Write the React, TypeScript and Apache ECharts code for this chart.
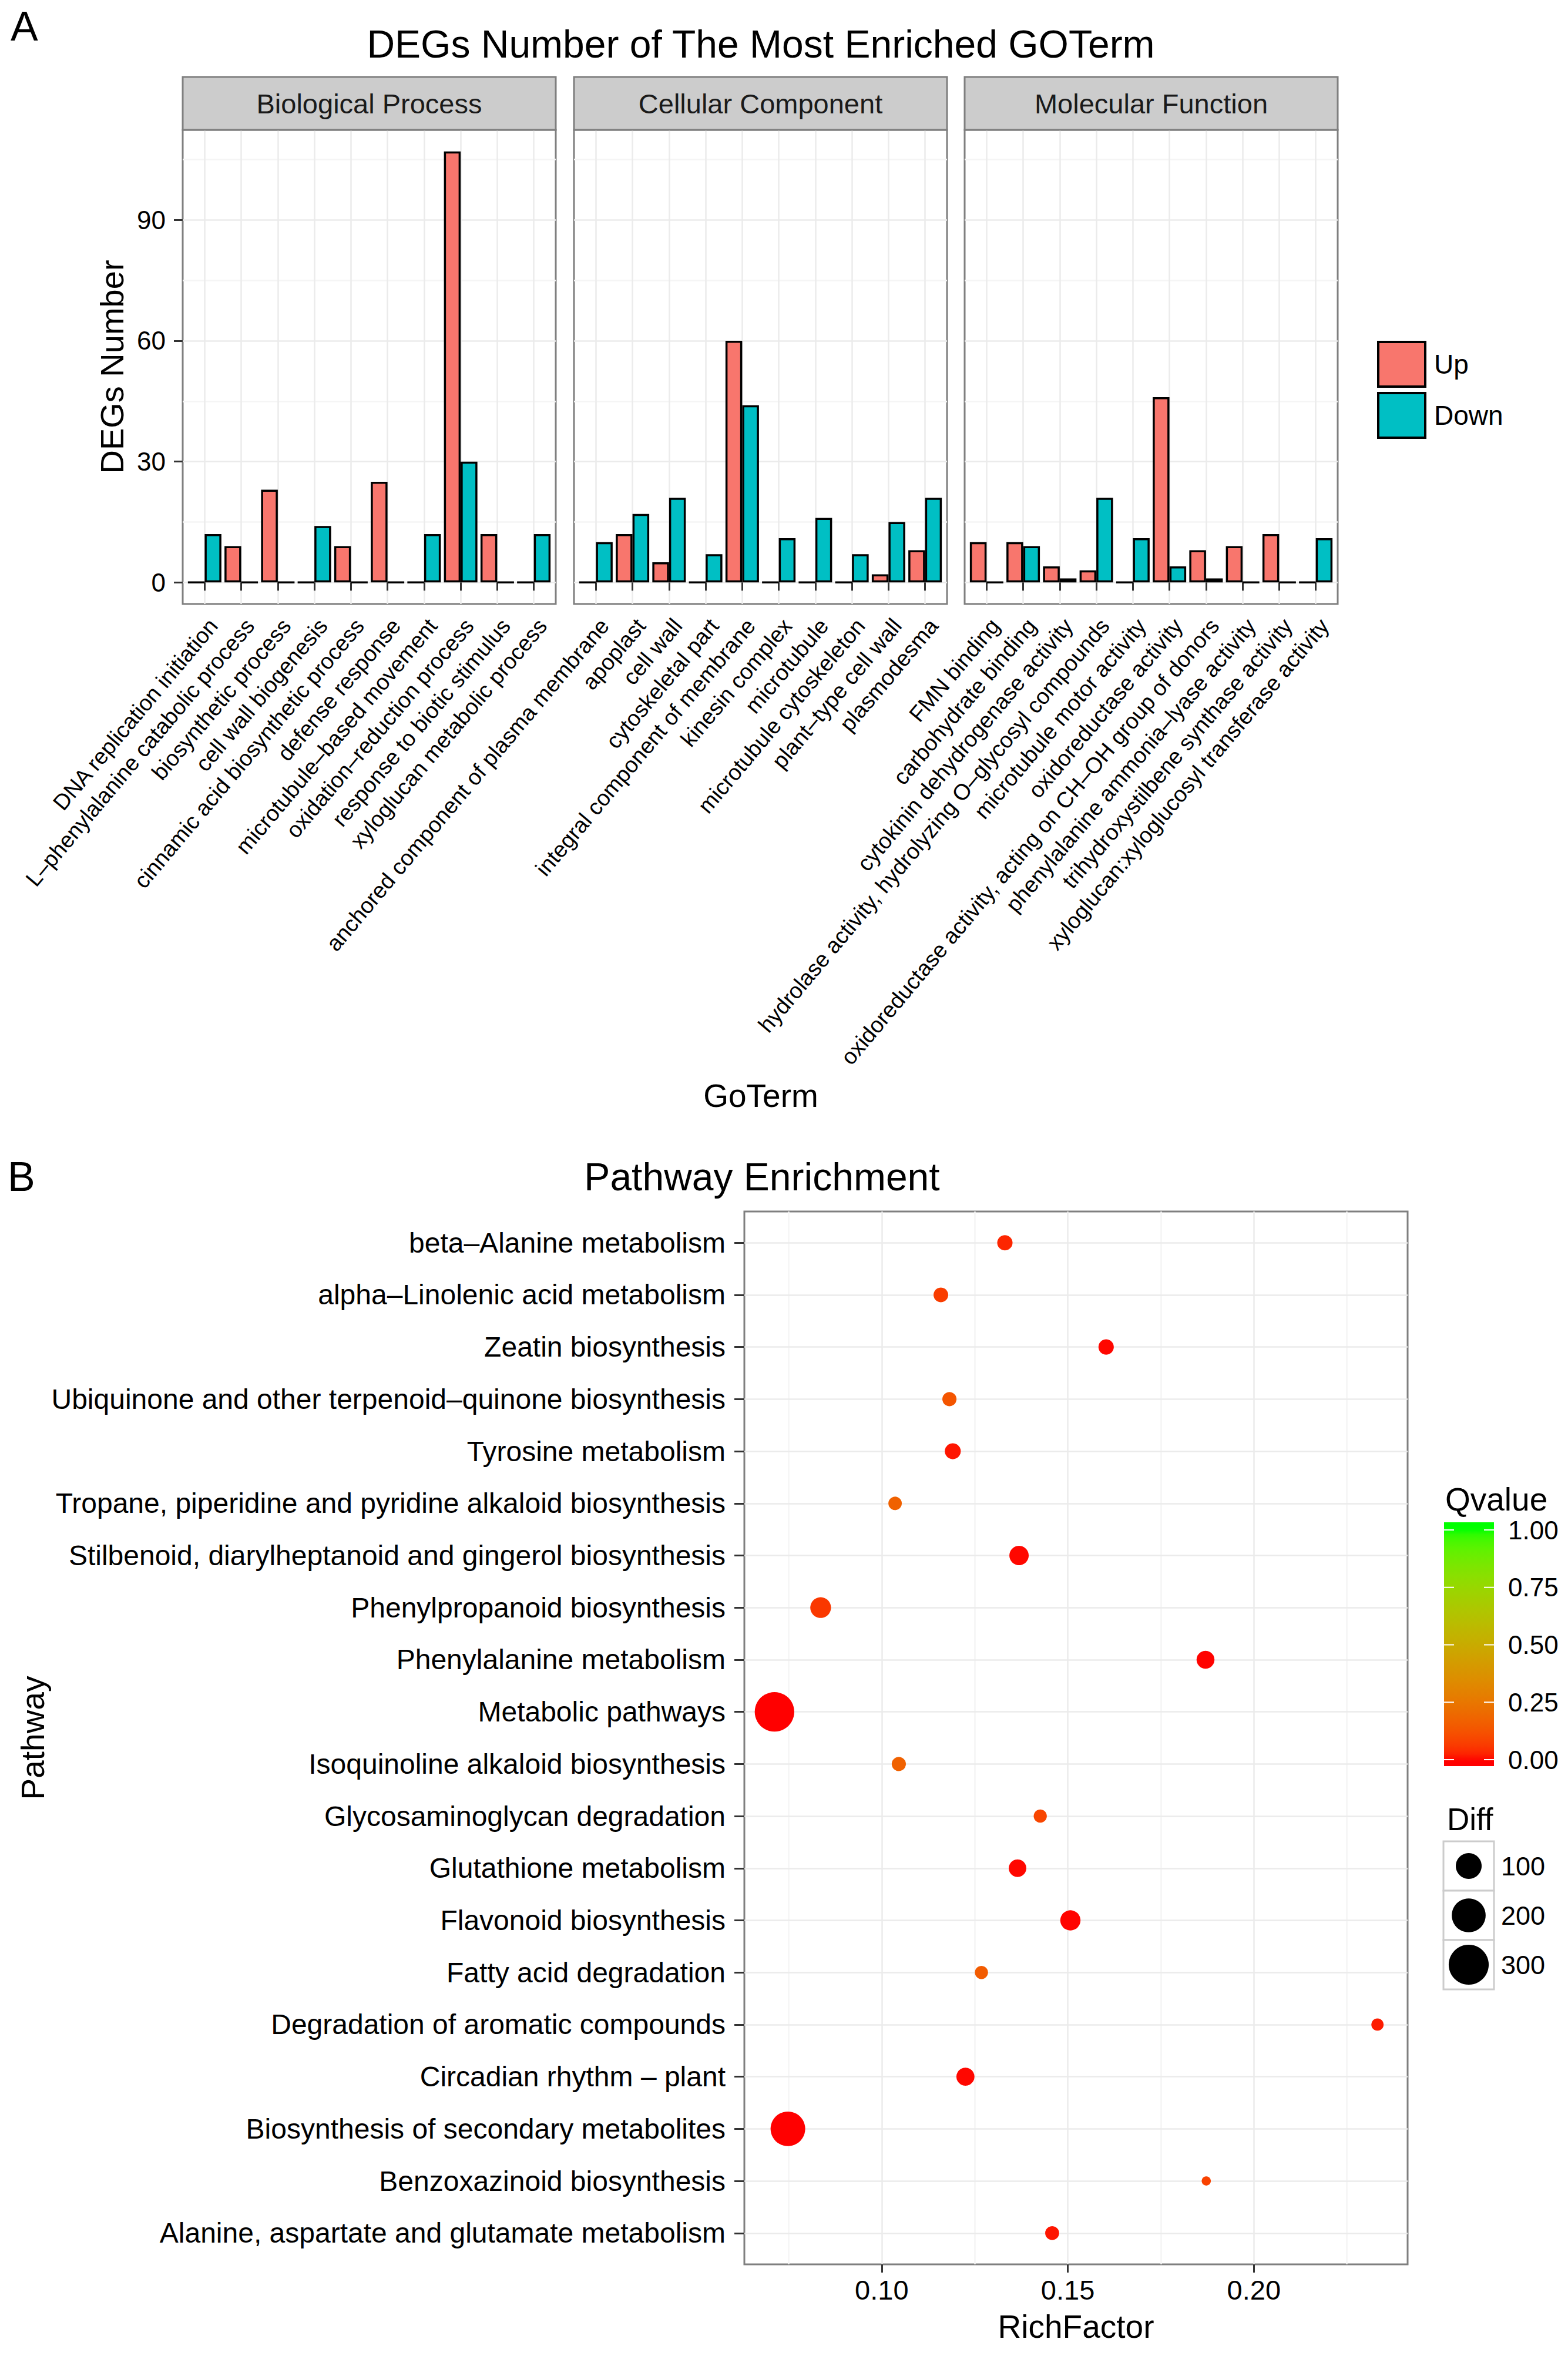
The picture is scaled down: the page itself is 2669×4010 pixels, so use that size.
import React, { useEffect, useRef } from "react";
import * as echarts from "echarts";

const FONT = "'Liberation Sans', Arial, Helvetica, sans-serif";
const UP_COLOR = "#F8766D";
const DOWN_COLOR = "#00BFC4";

// ---------- Panel A data ----------
const bpTerms = [
  "DNA replication initiation",
  "L–phenylalanine catabolic process",
  "biosynthetic process",
  "cell wall biogenesis",
  "cinnamic acid biosynthetic process",
  "defense response",
  "microtubule–based movement",
  "oxidation–reduction process",
  "response to biotic stimulus",
  "xyloglucan metabolic process",
];
const bpUp = [0, 9, 23, 0, 9, 25, 0, 107, 12, 0];
const bpDown = [12, 0, 0, 14, 0, 0, 12, 30, 0, 12];

const ccTerms = [
  "anchored component of plasma membrane",
  "apoplast",
  "cell wall",
  "cytoskeletal part",
  "integral component of membrane",
  "kinesin complex",
  "microtubule",
  "microtubule cytoskeleton",
  "plant–type cell wall",
  "plasmodesma",
];
const ccUp = [0, 12, 5, 0, 60, 0, 0, 0, 2, 8];
const ccDown = [10, 17, 21, 7, 44, 11, 16, 7, 15, 21];

const mfTerms = [
  "FMN binding",
  "carbohydrate binding",
  "cytokinin dehydrogenase activity",
  "hydrolase activity, hydrolyzing O–glycosyl compounds",
  "microtubule motor activity",
  "oxidoreductase activity",
  "oxidoreductase activity, acting on CH–OH group of donors",
  "phenylalanine ammonia–lyase activity",
  "trihydroxystilbene synthase activity",
  "xyloglucan:xyloglucosyl transferase activity",
];
const mfUp = [10, 10, 4, 3, 0, 46, 8, 9, 12, 0];
const mfDown = [0, 9, 1, 21, 11, 4, 1, 0, 0, 11];

const facetNames = ["Biological Process", "Cellular Component", "Molecular Function"];
const degTicks = [0, 30, 60, 90];
const degMinor = [15, 45, 75, 105];

// ---------- Panel B data (top to bottom) ----------
const pathways = [
  "beta–Alanine metabolism",
  "alpha–Linolenic acid metabolism",
  "Zeatin biosynthesis",
  "Ubiquinone and other terpenoid–quinone biosynthesis",
  "Tyrosine metabolism",
  "Tropane, piperidine and pyridine alkaloid biosynthesis",
  "Stilbenoid, diarylheptanoid and gingerol biosynthesis",
  "Phenylpropanoid biosynthesis",
  "Phenylalanine metabolism",
  "Metabolic pathways",
  "Isoquinoline alkaloid biosynthesis",
  "Glycosaminoglycan degradation",
  "Glutathione metabolism",
  "Flavonoid biosynthesis",
  "Fatty acid degradation",
  "Degradation of aromatic compounds",
  "Circadian rhythm – plant",
  "Biosynthesis of secondary metabolites",
  "Benzoxazinoid biosynthesis",
  "Alanine, aspartate and glutamate metabolism",
];
const richFactor = [
  0.1331, 0.1159, 0.1603, 0.1182, 0.1191, 0.1036, 0.1369, 0.0836, 0.187, 0.0712,
  0.1046, 0.1426, 0.1365, 0.1507, 0.1268, 0.2332, 0.1225, 0.0748, 0.1872, 0.1458,
];
const diffCount = [21, 18, 21, 16, 24, 13, 44, 54, 35, 291, 16, 12, 33, 50, 12, 9, 36, 211, 2, 15];
const qValue = [
  0.03, 0.07, 0.005, 0.13, 0.015, 0.17, 0.005, 0.06, 0.002, 0.0,
  0.17, 0.09, 0.005, 0.003, 0.15, 0.02, 0.005, 0.0, 0.08, 0.015,
];
const richTicks = [0.1, 0.15, 0.2];
const richMinor = [0.075, 0.125, 0.175, 0.225];
const qBreaks = [0, 0.25, 0.5, 0.75, 1];
const diffBreaks = [100, 200, 300];

// ---------- colour scale (Lab interpolation red -> green) ----------
function toLin(c: number) {
  c /= 255;
  return c <= 0.04045 ? c / 12.92 : Math.pow((c + 0.055) / 1.055, 2.4);
}
function hexToLab(hex: string) {
  const r = toLin(parseInt(hex.slice(1, 3), 16));
  const g = toLin(parseInt(hex.slice(3, 5), 16));
  const b = toLin(parseInt(hex.slice(5, 7), 16));
  const X = (0.4124564 * r + 0.3575761 * g + 0.1804375 * b) / 0.95047;
  const Y = 0.2126729 * r + 0.7151522 * g + 0.072175 * b;
  const Z = (0.0193339 * r + 0.119192 * g + 0.9503041 * b) / 1.08883;
  const f = (t: number) => (t > 0.008856 ? Math.cbrt(t) : 7.787 * t + 16 / 116);
  const fx = f(X), fy = f(Y), fz = f(Z);
  return [116 * fy - 16, 500 * (fx - fy), 200 * (fy - fz)];
}
function labToHex(L: number, a: number, bb: number) {
  const fy = (L + 16) / 116;
  const fx = fy + a / 500;
  const fz = fy - bb / 200;
  const inv = (t: number) => (t * t * t > 0.008856 ? t * t * t : (t - 16 / 116) / 7.787);
  const X = 0.95047 * inv(fx), Y = inv(fy), Z = 1.08883 * inv(fz);
  const lin = [
    3.2404542 * X - 1.5371385 * Y - 0.4985314 * Z,
    -0.969266 * X + 1.8760108 * Y + 0.041556 * Z,
    0.0556434 * X - 0.2040259 * Y + 1.0572252 * Z,
  ];
  return (
    "#" +
    lin
      .map((c) => {
        c = Math.max(0, Math.min(1, c));
        const s = c <= 0.0031308 ? 12.92 * c : 1.055 * Math.pow(c, 1 / 2.4) - 0.055;
        return Math.round(Math.max(0, Math.min(1, s)) * 255).toString(16).padStart(2, "0");
      })
      .join("")
  );
}
const LOW_LAB = hexToLab("#FF0000");
const HIGH_LAB = hexToLab("#00FF00");
function qColor(t: number) {
  t = Math.max(0, Math.min(1, t));
  return labToHex(
    LOW_LAB[0] + (HIGH_LAB[0] - LOW_LAB[0]) * t,
    LOW_LAB[1] + (HIGH_LAB[1] - LOW_LAB[1]) * t,
    LOW_LAB[2] + (HIGH_LAB[2] - LOW_LAB[2]) * t
  );
}
const dotSize = (d: number) => 11 + 3.3 * Math.sqrt(d);

// ---------- layout ----------
const A = { lefts: [311, 977, 1642], width: 635, top: 221, height: 807, stripTop: 131 };
const B = { left: 1267, top: 2062, width: 1129, height: 1792 };

function buildOption() {
  const panels = [
    { terms: bpTerms, up: bpUp, down: bpDown },
    { terms: ccTerms, up: ccUp, down: ccDown },
    { terms: mfTerms, up: mfUp, down: mfDown },
  ];
  const maxCount = Math.max(...bpUp, ...bpDown, ...ccUp, ...ccDown, ...mfUp, ...mfDown);
  const yMinA = -0.05 * maxCount;
  const yMaxA = 1.05 * maxCount;
  const rMin = Math.min(...richFactor);
  const rMax = Math.max(...richFactor);
  const rLo = rMin - 0.05 * (rMax - rMin);
  const rHi = rMax + 0.05 * (rMax - rMin);
  const N = pathways.length;

  const grid: any[] = A.lefts.map((l) => ({
    left: l, top: A.top, width: A.width, height: A.height,
    show: true, borderColor: "#7F7F7F", borderWidth: 3, backgroundColor: "#FFFFFF",
  }));
  grid.push({
    left: B.left, top: B.top, width: B.width, height: B.height,
    show: true, borderColor: "#7F7F7F", borderWidth: 3, backgroundColor: "#FFFFFF",
  });

  const tickLine = { color: "#333333", width: 3 };
  const major = { color: "#EBEBEB", width: 2.5 };
  const minor = { color: "#F5F5F5", width: 2.5 };

  const xAxis: any[] = panels.map((p, i) => {
    const idx = p.terms.map((_, j) => j + 1);
    return {
      type: "value", gridIndex: i, min: 0.4, max: p.terms.length + 0.6, z: 1,
      axisLine: { show: false },
      axisTick: { show: true, customValues: idx, length: 14, lineStyle: tickLine },
      axisLabel: {
        show: true, customValues: idx,
        formatter: (v: number) => p.terms[Math.round(v) - 1] || "",
        rotate: 50, align: "right", verticalAlign: "top",
        fontSize: 38, margin: 18, color: "#000", fontFamily: FONT,
      },
      splitLine: { show: true, lineStyle: major },
    };
  });
  xAxis.push({
    type: "value", gridIndex: 3, min: rLo, max: rHi, z: 1,
    axisLine: { show: false },
    axisTick: { show: true, customValues: richTicks, length: 14, lineStyle: tickLine },
    axisLabel: {
      show: true, customValues: richTicks, formatter: (v: number) => v.toFixed(2),
      fontSize: 47, margin: 20, color: "#000", fontFamily: FONT,
    },
    splitLine: { show: true, lineStyle: major },
  });
  xAxis.push({
    type: "value", gridIndex: 3, min: rLo, max: rHi, z: 0, position: "bottom",
    axisLine: { show: false },
    axisTick: { show: false, customValues: richMinor },
    axisLabel: { show: false },
    splitLine: { show: true, lineStyle: minor },
  });

  const yAxis: any[] = panels.map((_, i) => ({
    type: "value", gridIndex: i, min: yMinA, max: yMaxA, z: 1,
    axisLine: { show: false },
    axisTick: { show: i === 0, customValues: degTicks, length: 15, lineStyle: tickLine },
    axisLabel: {
      show: i === 0, customValues: degTicks, fontSize: 44, margin: 29, color: "#000", fontFamily: FONT,
    },
    splitLine: { show: true, lineStyle: major },
  }));
  panels.forEach((_, i) => {
    yAxis.push({
      type: "value", gridIndex: i, min: yMinA, max: yMaxA, z: 0,
      axisLine: { show: false },
      axisTick: { show: false, customValues: degMinor },
      axisLabel: { show: false },
      splitLine: { show: true, lineStyle: minor },
    });
  });
  const yIdx = pathways.map((_, i) => i + 1);
  yAxis.push({
    type: "value", gridIndex: 3, min: 0.4, max: N + 0.6, z: 1,
    axisLine: { show: false },
    axisTick: { show: true, customValues: yIdx, length: 17, lineStyle: tickLine },
    axisLabel: {
      show: true, customValues: yIdx,
      formatter: (v: number) => pathways[N - Math.round(v)] || "",
      fontSize: 48, margin: 32, color: "#000", fontFamily: FONT,
    },
    splitLine: { show: true, lineStyle: major },
  });

  const series: any[] = [];
  panels.forEach((p, i) => {
    series.push({
      type: "bar", name: "Up", xAxisIndex: i, yAxisIndex: i,
      data: p.up.map((v, j) => [j + 1, v]),
      barWidth: 28.5, barGap: "0%", z: 2,
      itemStyle: { color: UP_COLOR, borderColor: "#000", borderWidth: 3.5 },
    });
    series.push({
      type: "bar", name: "Down", xAxisIndex: i, yAxisIndex: i,
      data: p.down.map((v, j) => [j + 1, v]),
      barWidth: 28.5, barGap: "0%", z: 2,
      itemStyle: { color: DOWN_COLOR, borderColor: "#000", borderWidth: 3.5 },
    });
  });
  series.push({
    type: "scatter", name: "Pathway", xAxisIndex: 3, yAxisIndex: 6, z: 3,
    data: pathways.map((_, i) => [richFactor[i], N - i, diffCount[i], qValue[i]]),
    symbolSize: (v: number[]) => dotSize(v[2]),
    itemStyle: { opacity: 1 },
  });

  const qStops: string[] = [];
  for (let k = 0; k <= 40; k++) qStops.push(qColor(k / 40));

  // ---------- graphics ----------
  const txt = (x: number, y: number, text: string, size: number, align = "left", rot = 0, color = "#000") => ({
    type: "text", x, y, rotation: rot, z: 10,
    style: {
      text, fontSize: size, fontFamily: FONT, fill: color,
      align, verticalAlign: "middle", textAlign: align, textVerticalAlign: "middle",
    },
  });
  const g: any[] = [];
  g.push(txt(18, 45, "A", 70));
  g.push(txt(1295, 75, "DEGs Number of The Most Enriched GOTerm", 66, "center"));
  A.lefts.forEach((l, i) => {
    g.push({
      type: "rect", z: 5,
      shape: { x: l, y: A.stripTop, width: A.width, height: A.top - A.stripTop },
      style: { fill: "#CCCCCC", stroke: "#7F7F7F", lineWidth: 3 },
    });
    g.push(txt(l + A.width / 2, (A.stripTop + A.top) / 2, facetNames[i], 47, "center", 0, "#1A1A1A"));
  });
  g.push(txt(190, A.top + A.height / 2, "DEGs Number", 56, "center", Math.PI / 2));
  g.push(txt(1295, 1865, "GoTerm", 55, "center"));

  g.push(txt(13, 2003, "B", 70));
  g.push(txt(1297, 2003, "Pathway Enrichment", 66, "center"));
  g.push(txt(56, B.top + B.height / 2, "Pathway", 55, "center", Math.PI / 2));
  g.push(txt(B.left + B.width / 2, 3960, "RichFactor", 55, "center"));

  // Qvalue colourbar
  const cb = { x: 2458, y: 2591, w: 85, h: 415, v0: 2995, v1: 2604 };
  const pxPerUnit = cb.v0 - cb.v1;
  const gradStops: any[] = [];
  for (let k = 0; k <= 60; k++) {
    const o = k / 60;
    const yy = cb.y + o * cb.h;
    gradStops.push({ offset: o, color: qColor((cb.v0 - yy) / pxPerUnit) });
  }
  g.push(txt(2460, 2552, "Qvalue", 55));
  g.push({
    type: "rect", z: 5,
    shape: { x: cb.x, y: cb.y, width: cb.w, height: cb.h },
    style: { fill: { type: "linear", x: 0, y: 0, x2: 0, y2: 1, colorStops: gradStops } },
  });
  qBreaks.forEach((q) => {
    const yy = cb.v0 - q * pxPerUnit;
    g.push({ type: "line", z: 6, shape: { x1: cb.x, y1: yy, x2: cb.x + 17, y2: yy }, style: { stroke: "#FFFFFF", lineWidth: 2 } });
    g.push({ type: "line", z: 6, shape: { x1: cb.x + cb.w - 17, y1: yy, x2: cb.x + cb.w, y2: yy }, style: { stroke: "#FFFFFF", lineWidth: 2 } });
    g.push(txt(2567, yy, q.toFixed(2), 44));
  });

  // Diff size legend
  g.push(txt(2463, 3096, "Diff", 53));
  diffBreaks.forEach((d, i) => {
    const top = 3134 + i * 84;
    g.push({
      type: "rect", z: 5,
      shape: { x: 2457, y: top, width: 86, height: 84 },
      style: { fill: "#FFFFFF", stroke: "#CCCCCC", lineWidth: 3 },
    });
    g.push({
      type: "circle", z: 6,
      shape: { cx: 2500, cy: top + 42, r: dotSize(d) / 2 },
      style: { fill: "#000000" },
    });
    g.push(txt(2555, top + 42, String(d), 45));
  });

  return {
    animation: false,
    backgroundColor: "#FFFFFF",
    textStyle: { fontFamily: FONT },
    grid,
    xAxis,
    yAxis,
    series,
    legend: {
      data: ["Up", "Down"], orient: "vertical", left: 2339, top: 575,
      itemWidth: 80, itemHeight: 76, itemGap: 7, icon: "rect", selectedMode: false,
      itemStyle: { borderColor: "#000", borderWidth: 4 },
      textStyle: { fontSize: 46, color: "#000", fontFamily: FONT, padding: [0, 0, 0, 10] },
    },
    visualMap: [
      {
        type: "continuous", show: false, seriesIndex: 6, dimension: 3,
        min: 0, max: 1, inRange: { color: qStops },
      },
    ],
    graphic: { elements: g },
  };
}

export default function App() {
  const ref = useRef<HTMLDivElement>(null);
  useEffect(() => {
    if (!ref.current) return;
    const chart = echarts.init(ref.current, undefined, { renderer: "svg" });
    chart.setOption(buildOption() as any);
    return () => chart.dispose();
  }, []);
  return (
    <div
      ref={ref}
      style={{ position: "absolute", left: 0, top: 0, width: 2669, height: 4010, background: "#fff" }}
    />
  );
}
